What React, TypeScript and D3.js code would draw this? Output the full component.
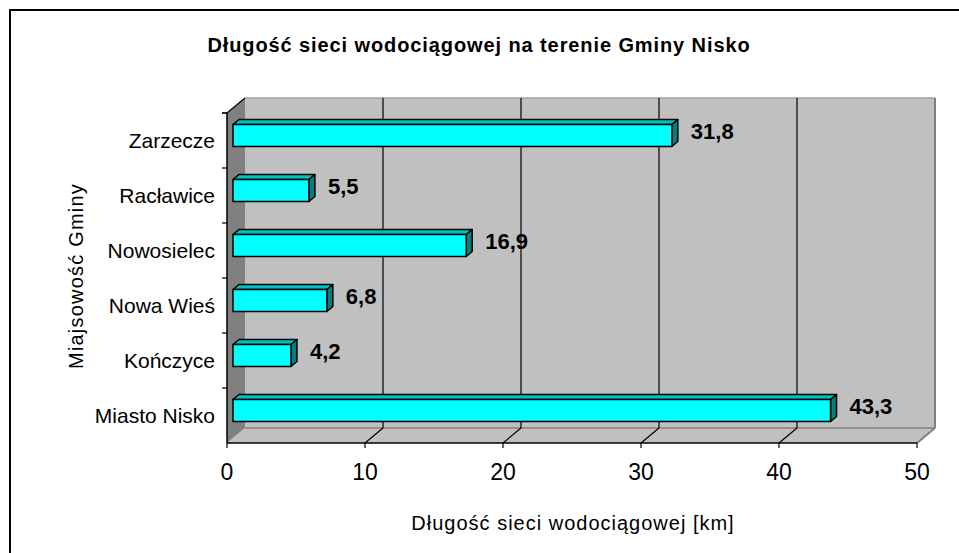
import React from "react";
import * as d3 from "d3";

const categories = ["Miasto Nisko", "Kończyce", "Nowa Wieś", "Nowosielec", "Racławice", "Zarzecze"];
const values = [43.3, 4.2, 6.8, 16.9, 5.5, 31.8];
const valueLabels = ["43,3", "4,2", "6,8", "16,9", "5,5", "31,8"];
const xTicks = [0, 10, 20, 30, 40, 50];
const title = "Długość sieci wodociągowej na terenie Gminy Nisko";
const xTitle = "Długość sieci wodociągowej [km]";
const yTitle = "Miajsowość Gminy";

const W = 959;
const H = 553;
const FONT = "'Liberation Sans', Arial, sans-serif";

export default function App() {
  // front plane geometry
  const left = 227, right = 917, top = 113, bottom = 443;
  const DX = 18, DY = 15; // 3D depth of plot
  const bx = 6, by = 5; // bar front offset
  const bdx = 6, bdy = 5; // bar depth

  const x = d3.scaleLinear().domain([0, 50]).range([left, right]);
  const y = d3.scaleBand<string>().domain(categories).range([bottom, top]);
  const bw = y.bandwidth();
  const barH = bw * 0.4;

  const pts = (p: number[][]) => p.map((q) => q.join(",")).join(" ");

  return (
    <svg width={W} height={H} style={{ position: "absolute", left: 0, top: 0 }} fontFamily={FONT}>
      <rect x={0} y={0} width={W} height={H} fill="#fff" />
      {/* outer frame */}
      <rect x={10} y={10} width={W + 20} height={H + 20} fill="none" stroke="#000" strokeWidth={2} />

      {/* title */}
      <text x={479} y={45} textAnchor="middle" dominantBaseline="central" fontWeight="bold" fontSize={20} letterSpacing={0.9}>
        {title}
      </text>

      {/* back wall */}
      <rect x={left + DX} y={top - DY} width={right - left} height={bottom - top} fill="#c0c0c0" stroke="none" />
      {/* floor */}
      <polygon
        points={pts([[left, bottom], [right, bottom], [right + DX, bottom - DY], [left + DX, bottom - DY]])}
        fill="#c0c0c0"
      />
      {/* side wall */}
      <polygon
        points={pts([[left, top], [left + DX, top - DY], [left + DX, bottom - DY], [left, bottom]])}
        fill="#808080"
      />
      {/* back wall edges */}
      <line x1={left + DX} x2={right + DX} y1={top - DY} y2={top - DY} stroke="#a0a0a0" strokeWidth={1.5} />
      <line x1={right + DX} x2={right + DX} y1={top - DY} y2={bottom - DY} stroke="#808080" strokeWidth={2} />
      <line x1={right + DX} x2={right} y1={bottom - DY} y2={bottom} stroke="#808080" strokeWidth={2} />
      <line x1={left + DX} x2={right + DX} y1={bottom - DY} y2={bottom - DY} stroke="#808080" strokeWidth={1.5} />

      {/* gridlines */}
      {xTicks.filter((t) => t > 0 && t < 50).map((t) => (
        <g key={t}>
          <line x1={x(t) + DX} x2={x(t) + DX} y1={top - DY} y2={bottom - DY} stroke="#000" strokeWidth={1.2} />
          <line x1={x(t) + DX} x2={x(t)} y1={bottom - DY} y2={bottom} stroke="#000" strokeWidth={1.2} />
        </g>
      ))}

      {/* axes */}
      <line x1={left} x2={left + DX} y1={top} y2={top - DY} stroke="#000" strokeWidth={1.2} />
      <line x1={left} x2={left} y1={top} y2={bottom} stroke="#000" strokeWidth={1.5} />
      <line x1={left} x2={right} y1={bottom} y2={bottom} stroke="#000" strokeWidth={1.5} />
      {categories.map((c) => (
        <line key={"yt" + c} x1={left - 5} x2={left} y1={(y(c) as number)} y2={(y(c) as number)} stroke="#000" strokeWidth={1.2} />
      ))}
      <line x1={left - 5} x2={left} y1={top} y2={top} stroke="#000" strokeWidth={1.2} />
      {xTicks.map((t) => (
        <g key={"xt" + t}>
          <line x1={x(t)} x2={x(t)} y1={bottom} y2={bottom + 5} stroke="#000" strokeWidth={1.2} />
          <text x={x(t)} y={480} textAnchor="middle" fontSize={23}>
            {t}
          </text>
        </g>
      ))}

      {/* bars */}
      {categories.map((c, i) => {
        const v = values[i];
        const yc = (y(c) as number) + bw / 2 - by;
        const yt = yc - barH / 2;
        const yb = yc + barH / 2;
        const x0 = x(0) + bx;
        const x1 = x(v) + bx;
        return (
          <g key={c} stroke="#000" strokeWidth={1.5} strokeLinejoin="round">
            <polygon points={pts([[x0, yt], [x0 + bdx, yt - bdy], [x1 + bdx, yt - bdy], [x1, yt]])} fill="#00c0c0" />
            <polygon points={pts([[x1, yt], [x1 + bdx, yt - bdy], [x1 + bdx, yb - bdy], [x1, yb]])} fill="#008080" />
            <rect x={x0} y={yt} width={x1 - x0} height={barH} fill="#00ffff" />
            <text x={x1 + 19} y={yc - 4} dominantBaseline="central" fontWeight="bold" fontSize={22} stroke="none" fill="#000">
              {valueLabels[i]}
            </text>
          </g>
        );
      })}

      {/* category labels */}
      {categories.map((c) => (
        <text key={"lab" + c} x={215} y={(y(c) as number) + bw / 2} textAnchor="end" dominantBaseline="central" fontSize={21}>
          {c}
        </text>
      ))}

      {/* axis titles */}
      <text x={573} y={523} textAnchor="middle" dominantBaseline="central" fontSize={20} letterSpacing={1}>
        {xTitle}
      </text>
      <text
        transform={`translate(76,276) rotate(-90)`}
        textAnchor="middle"
        dominantBaseline="central"
        fontSize={20}
        letterSpacing={1.2}
      >
        {yTitle}
      </text>
    </svg>
  );
}
